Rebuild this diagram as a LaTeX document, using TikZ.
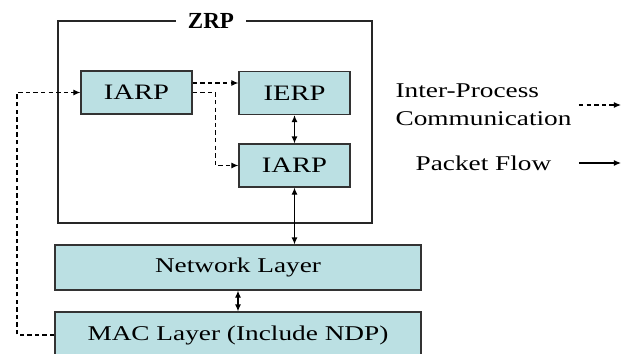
\documentclass[tikz,border=0pt]{standalone}
\usepackage{fontspec}
\setmainfont[FakeStretch=1.3]{Liberation Serif}
\newfontfamily\titlefont{Liberation Serif}
\usetikzlibrary{arrows.meta, positioning, calc}
\definecolor{boxfill}{RGB}{187,224,227}

\begin{document}
\begin{tikzpicture}[
  x=0.5pt, y=-0.5pt,
  block/.style={rectangle, draw=black!80, fill=boxfill, minimum width=55.5pt, minimum height=21.5pt, inner sep=0pt, font=\fontsize{11}{13}\selectfont},
  layer/.style={block, minimum width=183pt, minimum height=22.5pt, font=\fontsize{10.5}{12}\selectfont},
  ipc/.style={dash pattern=on 2.2pt off 1.6pt, ->},
  lbl/.style={font=\fontsize{10.5}{14}\selectfont, align=left, inner sep=0pt},
  >={Latex[length=3.5pt, width=3pt]},
  line width=0.6pt
]
  \useasboundingbox (0,0) rectangle (634,354);

  % ZRP frame
  \draw[line width=0.9pt, black!85] (58,21) rectangle (372,223);
  \node[fill=white, inner xsep=6pt, inner ysep=1pt, font=\titlefont\fontsize{11.5}{13}\bfseries] (zrp) at (211,21) {ZRP};

  \node[block] (iarpa) at (136.5,92.5) {IARP};
  \node[block] (ierp) at (294.5,93) {IERP};
  \node[block] (iarpb) at (294.5,165.5) {IARP};

  \node[layer] (net) at (238,267.5) {Network Layer};
  \node[layer, minimum height=23pt] (mac) at (238,335) {MAC Layer (Include NDP)};

  % inter-process links
  \coordinate (bend) at ($(iarpa.east)!0.5!(iarpb.west)$);
  \coordinate (loop) at (17,0);
  \draw[ipc] ([yshift=4.75pt]iarpa.east) -- ([yshift=4.75pt]iarpa.east -| ierp.west);
  \draw[ipc] (iarpa.east) -| (bend) |- (iarpb.west);
  \draw[ipc] (mac.west) -- (mac.west -| loop) |- (iarpa.west);

  % packet flow
  \draw[<->] (ierp) -- (iarpb);
  \draw[<->] (iarpb) -- (iarpb |- net.north);
  \draw[<->] (net) -- (mac);

  % legend
  \node[lbl, anchor=west] (ipclbl) at (395,105) {Inter-Process\\Communication};
  \node[lbl, anchor=west] (pktlbl) at (415,163) {Packet Flow};
  \coordinate (ipcend) at (621,105);
  \coordinate (pktend) at (621,163);
  \draw[ipc] (ipcend -| 579,0) -- (ipcend);
  \draw[->] (pktend -| 579,0) -- (pktend);
\end{tikzpicture}
\end{document}
